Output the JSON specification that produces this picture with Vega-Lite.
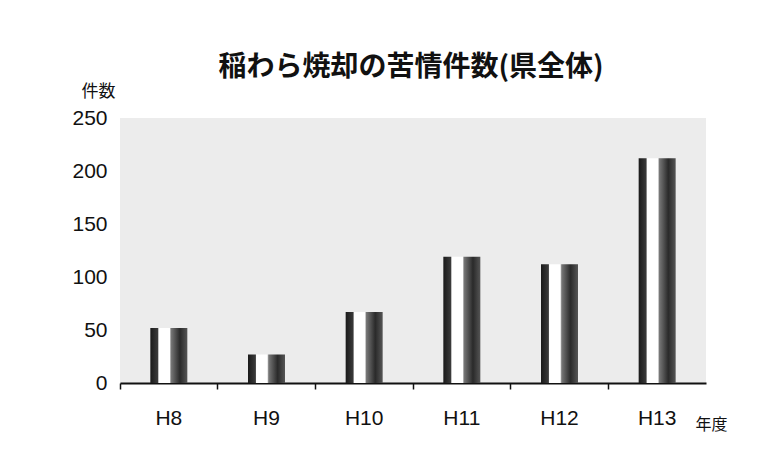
{
  "$schema": "https://vega.github.io/schema/vega-lite/v6.json",
  "width": 586,
  "height": 265,
  "autosize": "none",
  "padding": {"left": 120, "top": 118, "right": 63, "bottom": 84},
  "background": "white",
  "title": {
    "text": "稲わら焼却の苦情件数(県全体)",
    "font": "Noto Sans CJK JP",
    "fontSize": 28,
    "fontWeight": "bold",
    "color": "#111",
    "anchor": "middle",
    "dx": -2,
    "offset": 0
  },
  "data": {
    "values": [
      {"year": "H8", "count": 52},
      {"year": "H9", "count": 27},
      {"year": "H10", "count": 67},
      {"year": "H11", "count": 119},
      {"year": "H12", "count": 112},
      {"year": "H13", "count": 212}
    ]
  },
  "mark": {
    "type": "bar",
    "size": 37,
    "color": {
      "gradient": "linear",
      "x1": 0, "x2": 1, "y1": 0, "y2": 0,
      "stops": [
        {"offset": 0, "color": "#1a1a1a"},
        {"offset": 0.2, "color": "#3a3a3a"},
        {"offset": 0.23, "color": "#ffffff"},
        {"offset": 0.52, "color": "#ffffff"},
        {"offset": 0.56, "color": "#777777"},
        {"offset": 0.8, "color": "#2a2a2a"},
        {"offset": 1, "color": "#555555"}
      ]
    }
  },
  "encoding": {
    "x": {
      "field": "year",
      "type": "nominal",
      "sort": null,
      "scale": {"paddingInner": 0, "paddingOuter": 0},
      "axis": {
        "title": "年度",
        "titleFont": "Noto Sans CJK JP",
        "titleFontSize": 16,
        "titleFontWeight": "normal",
        "titleColor": "#111",
        "titleX": 575,
        "titleY": 41,
        "titleAlign": "left",
        "titleBaseline": "middle",
        "labelAngle": 0,
        "labelFont": "Liberation Sans",
        "labelFontSize": 21,
        "labelColor": "#111",
        "labelPadding": 18,
        "domainColor": "#111",
        "domainWidth": 2,
        "tickColor": "#111",
        "tickWidth": 1.5,
        "tickSize": 6,
        "bandPosition": 0
      }
    },
    "y": {
      "field": "count",
      "type": "quantitative",
      "scale": {"domain": [0, 250]},
      "axis": {
        "values": [0, 50, 100, 150, 200, 250],
        "title": "件数",
        "titleAngle": 0,
        "titleFont": "Noto Sans CJK JP",
        "titleFontSize": 17,
        "titleFontWeight": "normal",
        "titleColor": "#111",
        "titleX": -22,
        "titleY": -27,
        "titleAlign": "center",
        "titleBaseline": "middle",
        "labelFont": "Liberation Sans",
        "labelFontSize": 21,
        "labelColor": "#111",
        "labelPadding": 13,
        "domain": false,
        "ticks": false,
        "grid": false
      }
    }
  },
  "config": {
    "view": {"fill": "#ececec", "stroke": null}
  }
}
